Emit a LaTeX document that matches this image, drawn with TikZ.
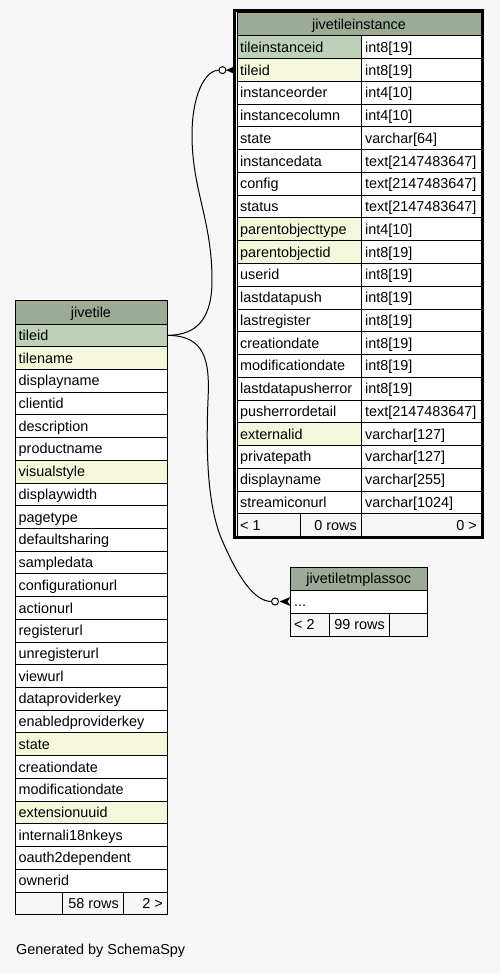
\documentclass[tikz,border=0pt]{standalone}
\usepackage{fontspec}
\setmainfont{Liberation Sans}
\definecolor{bgcol}{RGB}{247,247,247}
\definecolor{headcol}{RGB}{155,171,150}
\definecolor{pkcol}{RGB}{190,209,184}
\definecolor{idxcol}{RGB}{244,247,218}
\tikzset{
  cell/.style={draw=black, line width=1pt, inner sep=0pt, outer sep=0pt, anchor=north west},
  lbl/.style={anchor=base west, inner sep=0pt},
  link/.style={draw=black, line width=1pt},
}
\begin{document}
\begin{tikzpicture}[x=1pt,y=-1pt,font=\fontsize{14.4}{16}\selectfont]
\def\dy{22.75}
\def\dyt{22.72}

\fill[bgcol] (0,0) rectangle (500,973);

% jivetileinstance
\node[cell, fill=headcol, minimum width=244, minimum height=23.5] (ti-head) at (237,12.5) {};
\node[anchor=base, inner sep=0pt] (ti-title) at ([yshift=-5]ti-head.center) {jivetileinstance};
\foreach \fname/\ftype/\col/\i in {
tileinstanceid/int8[19]/pkcol/0,
tileid/int8[19]/idxcol/1,
instanceorder/int4[10]/white/2,
instancecolumn/int4[10]/white/3,
state/varchar[64]/white/4,
instancedata/text[2147483647]/white/5,
config/text[2147483647]/white/6,
status/text[2147483647]/white/7,
parentobjecttype/int4[10]/idxcol/8,
parentobjectid/int8[19]/idxcol/9,
userid/int8[19]/white/10,
lastdatapush/int8[19]/white/11,
lastregister/int8[19]/white/12,
creationdate/int8[19]/white/13,
modificationdate/int8[19]/white/14,
lastdatapusherror/int8[19]/white/15,
pusherrordetail/text[2147483647]/white/16,
externalid/varchar[127]/idxcol/17,
privatepath/varchar[127]/white/18,
displayname/varchar[255]/white/19,
streamiconurl/varchar[1024]/white/20
}{
  \node[cell, fill=\col, minimum width=124, minimum height=\dy] (ti-\i) at (237,36+\i*\dy) {};
  \node[cell, fill=white, minimum width=120, minimum height=\dy] (tt-\i) at (361,36+\i*\dy) {};
  \node[lbl] (ti-\i-n) at ([xshift=3,yshift=-5]ti-\i.west) {\fname};
  \node[lbl] (tt-\i-n) at ([xshift=4,yshift=-5]tt-\i.west) {\ftype};
}
\node[cell, fill=bgcol, minimum width=63, minimum height=\dy] (ti-f1) at (237,513.75) {};
\node[cell, fill=bgcol, minimum width=61, minimum height=\dy] (ti-f2) at (300,513.75) {};
\node[cell, fill=bgcol, minimum width=120, minimum height=\dy] (ti-f3) at (361,513.75) {};
\node[lbl] (ti-f1-t) at ([xshift=3,yshift=-5]ti-f1.west) {< 1};
\node[lbl, anchor=base east] (ti-f2-t) at ([xshift=-4,yshift=-5]ti-f2.east) {0 rows};
\node[lbl, anchor=base east] (ti-f3-t) at ([xshift=-4,yshift=-5]ti-f3.east) {0 >};
\draw[line width=3pt] (234.5,11) rectangle (482.5,537.8);

% jivetile
\node[cell, fill=headcol, minimum width=152, minimum height=24] (jt-head) at (15,300) {};
\node[anchor=base, inner sep=0pt] (jt-title) at ([yshift=-5]jt-head.center) {jivetile};
\foreach \fname/\col/\i in {
tileid/pkcol/0,
tilename/idxcol/1,
displayname/white/2,
clientid/white/3,
description/white/4,
productname/white/5,
visualstyle/idxcol/6,
displaywidth/white/7,
pagetype/white/8,
defaultsharing/white/9,
sampledata/white/10,
configurationurl/white/11,
actionurl/white/12,
registerurl/white/13,
unregisterurl/white/14,
viewurl/white/15,
dataproviderkey/white/16,
enabledproviderkey/white/17,
state/idxcol/18,
creationdate/white/19,
modificationdate/white/20,
extensionuuid/idxcol/21,
internali18nkeys/white/22,
oauth2dependent/white/23,
ownerid/white/24
}{
  \node[cell, fill=\col, minimum width=152, minimum height=\dyt] (jt-\i) at (15,324+\i*\dyt) {};
  \node[lbl] (jt-\i-n) at ([xshift=3.5,yshift=-5]jt-\i.west) {\fname};
}
\node[cell, fill=bgcol, minimum width=47, minimum height=22] (jt-f1) at (15,892) {};
\node[cell, fill=bgcol, minimum width=61, minimum height=22] (jt-f2) at (62,892) {};
\node[cell, fill=bgcol, minimum width=44, minimum height=22] (jt-f3) at (123,892) {};
\node[lbl, anchor=base east] (jt-f2-t) at ([xshift=-4,yshift=-5]jt-f2.east) {58 rows};
\node[lbl, anchor=base east] (jt-f3-t) at ([xshift=-4,yshift=-5]jt-f3.east) {2 >};

% jivetiletmplassoc
\node[cell, fill=headcol, minimum width=136.5, minimum height=23] (tm-head) at (290.5,567) {};
\node[anchor=base, inner sep=0pt] (tm-title) at ([yshift=-5]tm-head.center) {jivetiletmplassoc};
\node[cell, fill=white, minimum width=136.5, minimum height=23] (tm-0) at (290.5,590) {};
\node[lbl] (tm-0-n) at ([xshift=3.5,yshift=-5]tm-0.west) {...};
\node[cell, fill=bgcol, minimum width=38.5, minimum height=23] (tm-f1) at (290.5,613) {};
\node[cell, fill=bgcol, minimum width=60, minimum height=23] (tm-f2) at (329,613) {};
\node[cell, fill=bgcol, minimum width=38, minimum height=23] (tm-f3) at (389,613) {};
\node[lbl] (tm-f1-t) at ([xshift=3.5,yshift=-5]tm-f1.west) {< 2};
\node[lbl, anchor=base east] (tm-f2-t) at ([xshift=-4,yshift=-5]tm-f2.east) {99 rows};

% links
\draw[link] (jt-0.east) .. controls +(33,0) and +(0,35) .. (212,280)
  .. controls +(0,-60) and +(0,55) .. (192,135)
  .. controls +(0,-40) and +(-14,0) .. ([xshift=-18]ti-1.west);
\draw[link, fill=white] ([xshift=-14.5]ti-1.west) circle (3.5);
\fill ([xshift=-11]ti-1.west) -- ([xshift=-1,yshift=4.5]ti-1.west) -- ([xshift=-4]ti-1.west)
  -- ([xshift=-1,yshift=-4.5]ti-1.west) -- cycle;

\draw[link] (jt-0.east) .. controls +(38,0) and +(2,-40) .. (208,400)
  .. controls +(-2,50) and +(-15,-35) .. (222,540)
  .. controls +(15,35) and +(-18,0) .. ([xshift=-19]tm-0.west);
\draw[link, fill=white] ([xshift=-15.5]tm-0.west) circle (3.5);
\fill ([xshift=-11]tm-0.west) -- ([yshift=4.5]tm-0.west) -- ([xshift=-3]tm-0.west)
  -- ([yshift=-4.5]tm-0.west) -- cycle;

\node[lbl] (credit) at (16,954) {Generated by SchemaSpy};
\end{tikzpicture}
\end{document}
